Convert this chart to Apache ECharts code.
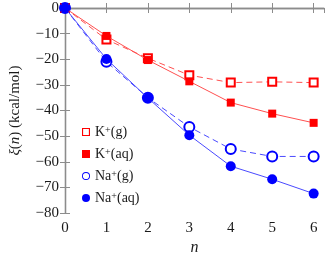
<!DOCTYPE html>
<html lang="en">
<head>
    <meta charset="UTF-8">
    <title>xi(n)</title>
    <script src="https://cdn.jsdelivr.net/npm/echarts@6/dist/echarts.min.js"></script>
    <style>
        body{margin:0;background:#fff;}
        #main{width:325px;height:261px;}
    </style>
</head>
<body>
    <div id="main"></div>
    <script>
        var n_values = [0, 1, 2, 3, 4, 5, 6];
        var k_gas = [0, -12.3, -19.6, -26.2, -29.1, -28.8, -29.1];
        var k_aq = [0, -10.9, -20.3, -28.6, -36.9, -41.2, -44.8];
        var na_gas = [0, -21.0, -35.0, -46.4, -55.0, -57.9, -57.9];
        var na_aq = [0, -19.9, -35.1, -49.6, -61.7, -66.8, -72.4];

        var font = 'Liberation Serif';
        var axisGray = '#8c8c8c';
        var txt = '#1a1a1a';
        var red = '#ff0000';
        var blue = '#0000ff';

        // outline icons for the legend (square ring / circle ring)
        var ringSquare = 'path://M0,0H10V10H0Z M1.4,1.4V8.6H8.6V1.4Z';
        var ringCircle = 'path://M5,0A5,5 0 1,1 5,10A5,5 0 1,1 5,0Z M5,1.1A3.9,3.9 0 1,0 5,8.9A3.9,3.9 0 1,0 5,1.1Z';

        function pairs(ys) {
            var out = [];
            for (var i in n_values) out.push([n_values[i], ys[i]]);
            return out;
        }
        function fmtMinus(v) {
            return v < 0 ? '\u2212' + Math.abs(v) : String(v);
        }

        var myChart = echarts.init(document.getElementById('main'));
        var option = {
            animation: false,
            backgroundColor: '#fff',
            textStyle: {fontFamily: font},
            grid: {left: 61, right: 1, top: 8, bottom: 36},
            legend: {
                orient: 'vertical',
                left: 77, top: 120,
                itemWidth: 8, itemHeight: 8, itemGap: 7,
                textStyle: {
                    fontFamily: font, fontSize: 14, color: txt,
                    rich: {
                        t: {fontFamily: font, fontSize: 14, color: txt, lineHeight: 14},
                        s: {fontFamily: font, fontSize: 10, color: txt, lineHeight: 14, verticalAlign: 'top', padding: [0, 0, 5, 0]}
                    }
                },
                formatter: function (name) {
                    var m = name.split('+');
                    return '{t|' + m[0] + '}{s|+}{t|' + m[1] + '}';
                },
                data: [
                    {name: 'K+(g)', icon: ringSquare, itemStyle: {color: red}},
                    {name: 'K+(aq)', icon: 'rect', itemStyle: {color: red}},
                    {name: 'Na+(g)', icon: ringCircle, itemStyle: {color: blue}},
                    {name: 'Na+(aq)', icon: 'circle', itemStyle: {color: blue}}
                ]
            },
            xAxis: [{
                type: 'value',
                min: 0, max: 6.25, interval: 1,
                name: 'n',
                nameLocation: 'middle',
                nameGap: 25,
                nameTextStyle: {fontFamily: font, fontStyle: 'italic', fontSize: 16, color: txt},
                axisLine: {lineStyle: {color: axisGray, width: 1.3}},
                axisTick: {inside: true, length: 5, lineStyle: {color: axisGray}},
                axisLabel: {showMaxLabel: false, fontFamily: font, fontSize: 15, color: txt, margin: 7},
                splitLine: {show: false}
            }, {
                type: 'value',
                position: 'top',
                min: 0, max: 6.25, interval: 1,
                axisLine: {show: true, lineStyle: {color: axisGray, width: 1.3}},
                axisTick: {inside: true, length: 5, lineStyle: {color: axisGray}},
                axisLabel: {show: false},
                splitLine: {show: false}
            }],
            yAxis: [{
                type: 'value',
                min: -80, max: 0, interval: 10,
                name: '{i|\u03be}({i|n}) (kcal/mol)',
                nameLocation: 'middle',
                nameGap: 42,
                nameRotate: 90,
                nameTextStyle: {
                    fontFamily: font, fontSize: 15, color: txt,
                    rich: {i: {fontFamily: font, fontStyle: 'italic', fontSize: 15, color: txt}}
                },
                axisLine: {show: true, lineStyle: {color: axisGray, width: 1.3}},
                axisTick: {inside: true, length: 5, lineStyle: {color: axisGray}},
                axisLabel: {fontFamily: font, fontSize: 15, color: txt, margin: 6, formatter: fmtMinus},
                splitLine: {show: false}
            }, {
                type: 'value',
                position: 'right',
                min: -80, max: 0, interval: 10,
                axisLine: {show: true, lineStyle: {color: axisGray, width: 1.3}},
                axisTick: {inside: true, length: 5, lineStyle: {color: axisGray}},
                axisLabel: {show: false},
                splitLine: {show: false}
            }],
            series: [{
                name: 'K+(g)',
                type: 'line',
                data: pairs(k_gas),
                symbol: 'emptyRect', symbolSize: 8,
                itemStyle: {color: red},
                lineStyle: {color: '#ff5050', width: 1, type: [6, 4]},
                z: 2
            }, {
                name: 'K+(aq)',
                type: 'line',
                data: pairs(k_aq),
                symbol: 'rect', symbolSize: 8,
                itemStyle: {color: red},
                lineStyle: {color: '#ff5050', width: 1},
                z: 3
            }, {
                name: 'Na+(g)',
                type: 'line',
                data: pairs(na_gas),
                symbol: 'emptyCircle', symbolSize: 10,
                itemStyle: {color: blue},
                lineStyle: {color: '#4a4aff', width: 1, type: [6, 4]},
                z: 2
            }, {
                name: 'Na+(aq)',
                type: 'line',
                data: pairs(na_aq),
                symbol: 'circle', symbolSize: 10,
                itemStyle: {color: blue},
                lineStyle: {color: '#4a4aff', width: 1},
                z: 3
            }]
        };
        myChart.setOption(option);
    </script>
</body>
</html>
